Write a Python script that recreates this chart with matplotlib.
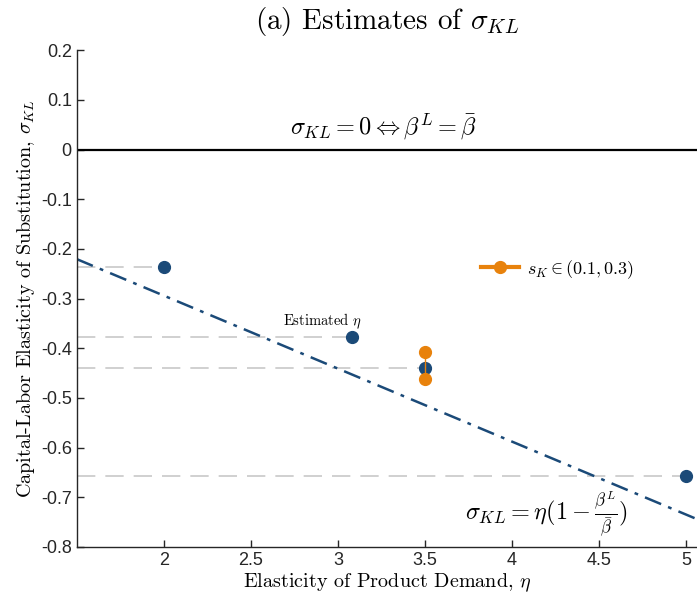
import numpy as np
import matplotlib
matplotlib.use("Agg")
import matplotlib.pyplot as plt
from matplotlib.lines import Line2D

# ---------------------------------------------------------------------------
# Dati
# ---------------------------------------------------------------------------
eta_est = [2.0, 3.08, 3.5, 5.0]
sigma_est = [-0.236, -0.378, -0.439, -0.657]

eta_sk = [3.5, 3.5]
sigma_sk = [-0.408, -0.462]

slope = -0.147          # sigma_KL = eta * (1 - beta^L / beta_bar)

x_ticks = [2, 2.5, 3, 3.5, 4, 4.5, 5]
y_ticks = [0.2, 0.1, 0, -0.1, -0.2, -0.3, -0.4, -0.5, -0.6, -0.7, -0.8]

BLUE = "#1b4a78"
ORANGE = "#e8820c"
GREY = "#c8c8c8"

plt.rcParams["mathtext.fontset"] = "cm"
plt.rcParams["axes.unicode_minus"] = False
SERIF = "cmr10"
SANS = "Liberation Sans"

fig = plt.figure(figsize=(6.97, 6.05), dpi=100)
ax = fig.add_axes([0.110, 0.096, 0.892, 0.821])

xlim = (1.5, 5.07)

# linee grigie tratteggiate verso l'asse y
for x, y in zip(eta_est, sigma_est):
    ax.plot([xlim[0], x], [y, y], color=GREY, lw=1.2, dashes=(11, 6), zorder=1)

# retta teorica
xs = np.array(xlim)
ax.plot(xs, slope * xs, color=BLUE, lw=1.8, ls=(0, (7, 3, 1.5, 3)), zorder=2)

# linea zero
ax.axhline(0, color="black", lw=1.6, zorder=2)

# stime
ax.plot(eta_est, sigma_est, "o", color=BLUE, ms=8.5, mec=BLUE, zorder=3)
ax.plot(eta_sk, sigma_sk, "-o", color=ORANGE, ms=8.5, lw=1.0, zorder=4)

# testi
ax.text(3.26, 0.045, r"$\sigma_{KL}=0 \Leftrightarrow \beta^L = \bar{\beta}$",
        ha="center", va="center", fontsize=17.5)
ax.text(2.91, -0.345, r"Estimated $\eta$", ha="center", va="center",
        fontsize=10.5, family=SERIF)
ax.text(4.2, -0.733, r"$\sigma_{KL}=\eta(1-\frac{\beta^L}{\bar{\beta}})$",
        ha="center", va="center", fontsize=17.5)

handle = Line2D([], [], color=ORANGE, lw=3, marker="o", ms=8.5)
ax.legend([handle], [r"$s_K \in (0.1, 0.3)$"], loc="center left",
          bbox_to_anchor=(0.625, 0.559), frameon=False, fontsize=13,
          handlelength=2.1, numpoints=1, handletextpad=0.4)

ax.set_xlim(*xlim)
ax.set_ylim(-0.8, 0.2)
ax.set_xticks(x_ticks)
ax.set_xticklabels([f"{t:g}" for t in x_ticks], family=SANS, fontsize=13)
ax.set_yticks(y_ticks)
ax.set_yticklabels([f"{t:g}" for t in y_ticks], family=SANS, fontsize=13)

ax.tick_params(direction="in", length=5, width=1.0, colors="#262626")
for side in ["top", "right"]:
    ax.spines[side].set_visible(False)
for side in ["left", "bottom"]:
    ax.spines[side].set_color("#262626")
    ax.spines[side].set_linewidth(1.0)

ax.set_xlabel(r"Elasticity of Product Demand, $\eta$", family=SERIF,
              fontsize=14.5, labelpad=2)
ax.set_ylabel(r"Capital-Labor Elasticity of Substitution, $\sigma_{KL}$",
              family=SERIF, fontsize=14.5, labelpad=3)
ax.set_title(r"(a) Estimates of $\sigma_{KL}$", family=SERIF, fontsize=21, pad=15)

fig.savefig("out.png", dpi=100)
